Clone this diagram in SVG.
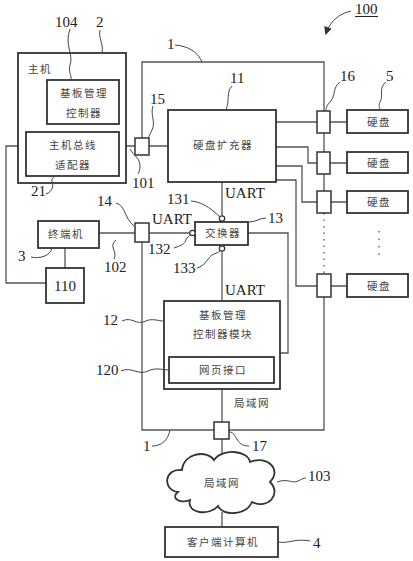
<svg xmlns="http://www.w3.org/2000/svg" width="413" height="561" viewBox="0 0 413 561">
<defs>
<style>
.box{fill:#fff;stroke:#333;stroke-width:1.8}
.ln{fill:none;stroke:#555;stroke-width:1.3}
.ld{fill:none;stroke:#444;stroke-width:1}
.cn{font-family:"Noto Sans CJK SC","Noto Sans CJK TC",sans-serif;font-size:10.5px;fill:#444;text-anchor:middle;letter-spacing:1.5px}
.num{font-family:"Liberation Serif",serif;font-size:15px;fill:#222}
.uart{font-family:"Liberation Serif",serif;font-size:15px;fill:#222}
.port{fill:#fff;stroke:#333;stroke-width:1.5}
.dot{fill:#fff;stroke:#333;stroke-width:1.2}
</style>
<marker id="ah" markerWidth="8" markerHeight="8" refX="6" refY="4" orient="auto" markerUnits="userSpaceOnUse">
<path d="M0,0 L8,4 L0,8 Z" fill="#333"/>
</marker>
</defs>
<rect width="413" height="561" fill="#fff"/>

<g id="connectors">
<path class="ln" d="M142,138 V62 H324 V111"/>
<path class="ln" d="M324,133 V152 M324,174 V191"/>
<path class="ln" d="M324,213 V274" stroke-dasharray="1.5 5"/>
<path class="ln" d="M324,297 V430 H142 V242"/>
<path class="ln" d="M126,146 H135 M149,146 H168"/>
<path class="ln" d="M18,146 H6 V283 H46"/>
<path class="ln" d="M65,248 V268"/>
<path class="ln" d="M99,233 H135 M149,233 H189.5"/>
<path class="ln" d="M276,122 H317 M330,122 H347"/>
<path class="ln" d="M276,147 H308 V163 H317 M330,163 H347"/>
<path class="ln" d="M276,166 H302 V202 H317 M331,202 H347"/>
<path class="ln" d="M276,180 H296 V286 H317 M331,286 H347"/>
<path class="ln" d="M222,182 V215.5"/>
<path class="ln" d="M222,251.5 V301"/>
<path class="ln" d="M248,233 H288 V353 H280"/>
<path class="ln" d="M222,389 V422 M222,439 V458 M222,512 V527"/>
</g>

<g id="node-2">
<rect class="box" x="18" y="53" width="108" height="130"/>
<text class="cn" x="40" y="73">主机</text>
</g>
<g id="node-104">
<rect class="box" x="47" y="80" width="72" height="44"/>
<text class="cn" x="84" y="97">基板管理</text>
<text class="cn" x="84" y="117">控制器</text>
</g>
<g id="node-21">
<rect class="box" x="26" y="132" width="93" height="44"/>
<text class="cn" x="73" y="149">主机总线</text>
<text class="cn" x="73" y="169">适配器</text>
</g>

<g id="node-15"><rect class="port" x="135" y="138" width="14" height="17"/></g>
<g id="node-14"><rect class="port" x="135" y="223" width="14" height="19"/></g>

<g id="node-3">
<rect class="box" x="38" y="221" width="61" height="27"/>
<text class="cn" x="66" y="238">终端机</text>
</g>
<g id="node-110">
<rect class="box" x="46" y="268" width="38" height="35"/>
<text class="num" x="65" y="291" text-anchor="middle">110</text>
</g>

<g id="node-11">
<rect class="box" x="168" y="110" width="108" height="72"/>
<text class="cn" x="223" y="149">硬盘扩充器</text>
</g>

<g id="node-16">
<rect class="port" x="317" y="111" width="13" height="22"/>
<rect class="port" x="317" y="152" width="13" height="22"/>
<rect class="port" x="317" y="191" width="14" height="22"/>
<rect class="port" x="317" y="274" width="14" height="23"/>
</g>
<g id="node-5">
<rect class="box" x="347" y="110" width="61" height="23"/>
<text class="cn" x="379" y="126">硬盘</text>
<rect class="box" x="347" y="152" width="61" height="21"/>
<text class="cn" x="379" y="167">硬盘</text>
<rect class="box" x="347" y="191" width="61" height="22"/>
<text class="cn" x="379" y="206">硬盘</text>
<rect class="box" x="347" y="274" width="61" height="23"/>
<text class="cn" x="379" y="290">硬盘</text>
<path d="M379,231 V256" stroke="#555" stroke-width="1.3" stroke-dasharray="1.5 6"/>
</g>

<g id="node-13">
<rect class="box" x="195" y="222" width="53" height="23"/>
<text class="cn" x="223" y="237">交换器</text>
<circle class="dot" cx="222" cy="218.5" r="2.7"/>
<circle class="dot" cx="192.5" cy="233" r="2.7"/>
<circle class="dot" cx="222" cy="248.5" r="2.7"/>
</g>

<g id="node-12">
<rect class="box" x="164" y="301" width="116" height="88"/>
<text class="cn" x="223" y="319">基板管理</text>
<text class="cn" x="223" y="338">控制器模块</text>
</g>
<g id="node-120">
<rect class="box" x="169" y="357" width="105" height="26"/>
<text class="cn" x="223" y="374">网页接口</text>
</g>

<g id="node-17"><rect class="port" x="214" y="422" width="15" height="17"/></g>

<g id="node-103">
<path class="box" stroke-width="1.4" d="M178,492 C162,490 164,468 182,470 C184,452 208,450 214,460 C222,448 248,450 250,462 C268,455 282,470 270,482 C282,494 268,510 252,502 C246,516 222,516 218,506 C210,516 186,514 190,500 C180,504 170,498 178,492 Z"/>
<text class="cn" x="222" y="487">局域网</text>
</g>

<g id="node-4">
<rect class="box" x="165" y="527" width="113" height="30"/>
<text class="cn" x="223" y="546">客户端计算机</text>
</g>

<g id="labels">
<text class="uart" x="225" y="198">UART</text>
<text class="uart" x="152" y="224">UART</text>
<text class="uart" x="225" y="295">UART</text>
<text class="cn" x="252" y="407">局域网</text>

<text class="num" x="55" y="27">104</text>
<path class="ld" d="M70,29 C64,45 74,55 70,65 C68,72 72,76 71,80"/>
<text class="num" x="96" y="27">2</text>
<path class="ld" d="M100,30 C98,38 104,44 102,53"/>
<text class="num" x="167" y="49">1</text>
<path class="ld" d="M175,45 C188,46 198,52 202,62"/>
<text class="num" x="150" y="104">15</text>
<path class="ld" d="M153,106 C150,115 156,122 152,130 C150,134 149,136 148,138"/>
<text class="num" x="132" y="188">101</text>
<path class="ld" d="M130,149 C134,156 140,158 140,166 C140,170 139,172 138,174"/>
<text class="num" x="230" y="83">11</text>
<path class="ld" d="M232,86 C226,92 230,100 226,110"/>
<text class="num" x="340" y="81">16</text>
<path class="ld" d="M340,82 C332,88 336,96 330,102 C326,106 326,109 326,111"/>
<text class="num" x="386" y="81">5</text>
<path class="ld" d="M386,82 C378,88 384,96 380,102 C378,106 380,108 380,110"/>
<text class="num" x="355" y="14">100</text>
<path d="M355,16.5 H378" stroke="#222" stroke-width="1"/>
<path class="ld" d="M351,11 C338,14 330,22 326,33" marker-end="url(#ah)"/>
<text class="num" x="31" y="196">21</text>
<path class="ld" d="M46,194 C52,192 54,186 52,182 C51,179 54,177 55,176"/>
<text class="num" x="97" y="206">14</text>
<path class="ld" d="M116,203 C126,206 124,218 134,226"/>
<text class="num" x="18" y="261">3</text>
<path class="ld" d="M31,257 C40,259 50,256 52,248"/>
<text class="num" x="104" y="272">102</text>
<path class="ld" d="M116,240 C108,246 118,252 114,259"/>
<text class="num" x="167" y="204">131</text>
<path class="ld" d="M191,201 C205,202 214,212 219.5,216.5"/>
<text class="num" x="268" y="223">13</text>
<path class="ld" d="M249,222 C256,222 260,218 266,218"/>
<text class="num" x="148" y="254">132</text>
<path class="ld" d="M174,248 C180,246 185,244 186,240 C187,237 189,236 190.5,235"/>
<text class="num" x="173" y="273">133</text>
<path class="ld" d="M197,268 C206,266 208,256 214,254 C217,253 219,252 220,251"/>
<text class="num" x="103" y="325">12</text>
<path class="ld" d="M122,321 C132,316 136,326 146,321 C152,318 158,321 164,321"/>
<text class="num" x="96" y="375">120</text>
<path class="ld" d="M121,371 C132,366 138,376 148,371 C156,367 162,370 169,370"/>
<text class="num" x="143" y="451">1</text>
<path class="ld" d="M152,446 C162,446 168,440 170,430"/>
<text class="num" x="252" y="451">17</text>
<path class="ld" d="M229,432 C238,432 234,446 249,446"/>
<text class="num" x="308" y="481">103</text>
<path class="ld" d="M277,482 C288,478 292,484 298,481 C302,479 304,478 306,478"/>
<text class="num" x="313" y="548">4</text>
<path class="ld" d="M278,542 C288,544 296,538 310,541"/>
</g>
</svg>
